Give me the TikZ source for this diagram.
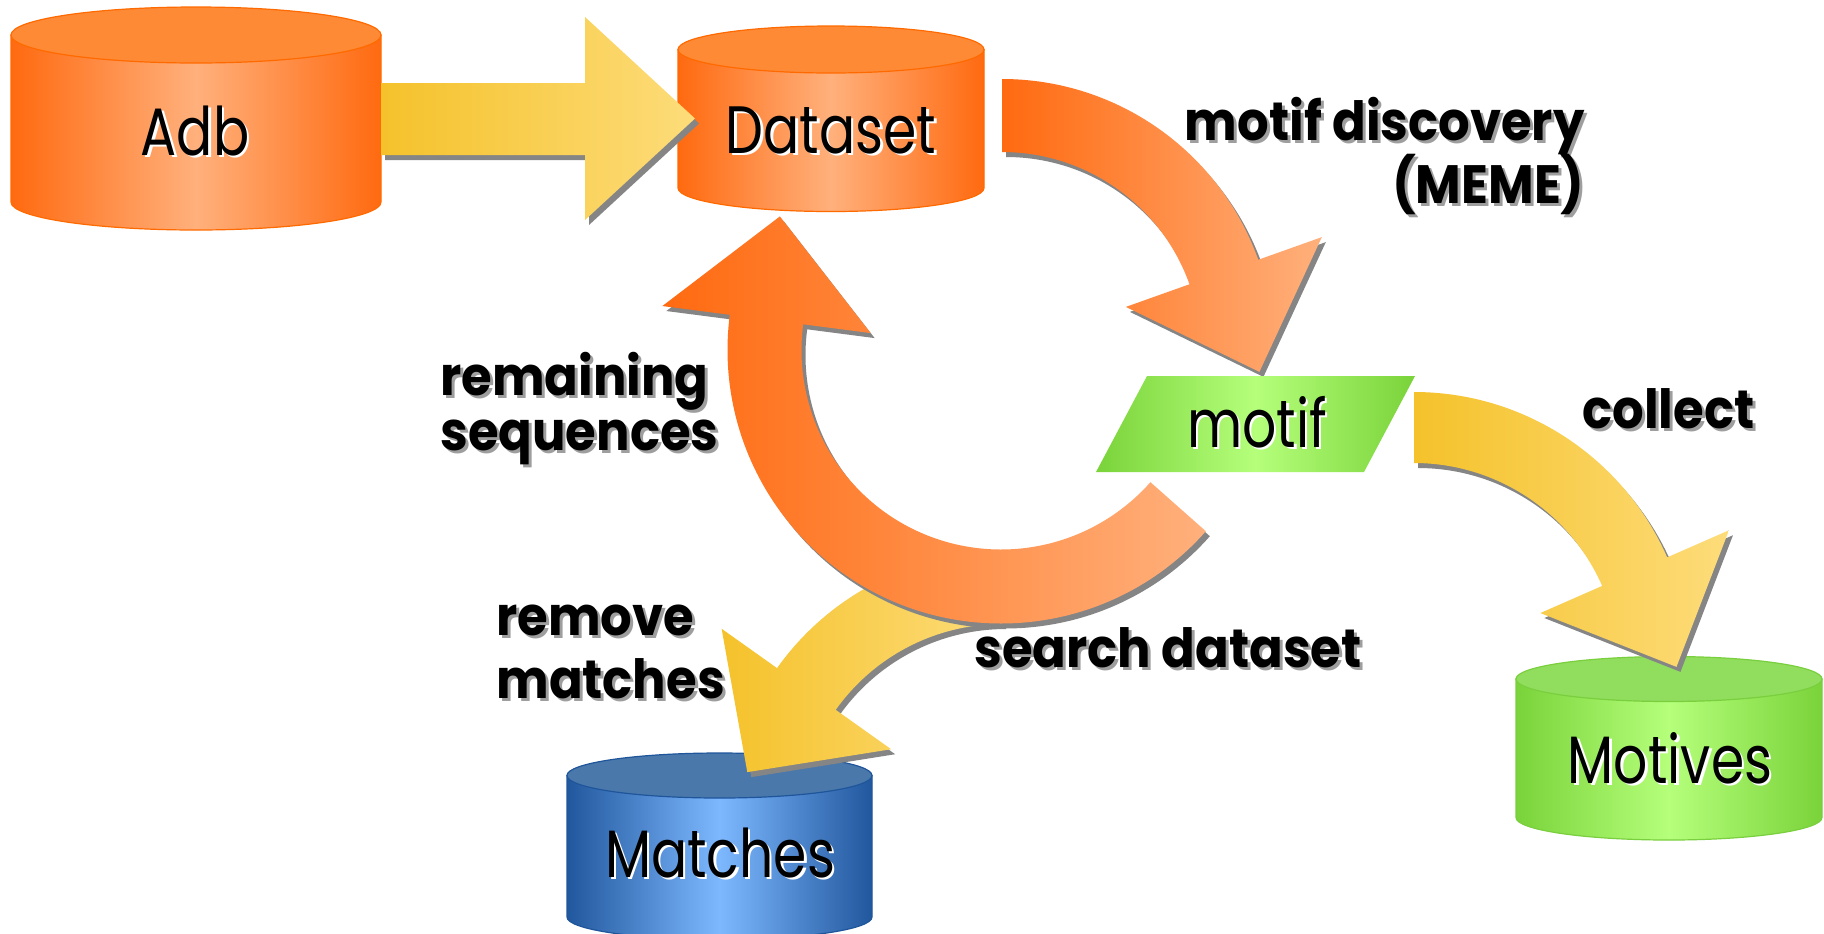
\documentclass[tikz,border=0pt]{standalone}
\usepackage{fontspec}
\usetikzlibrary{calc}
\newfontfamily\tagfont{Poppins}[FakeStretch=0.8]
\IfFontExistsTF{Poppins Bold}
  {\newfontfamily\notefont{Poppins Bold}[FakeStretch=0.92]}
  {\newfontfamily\notefont{Poppins}[FakeStretch=0.92,FakeBold=2]}

\definecolor{orDeep}{HTML}{FF6A10}
\definecolor{orPale}{HTML}{FFB07C}
\definecolor{orTop}{HTML}{FF8A35}
\definecolor{orLine}{HTML}{FF6A00}
\definecolor{ylDeep}{HTML}{F5C22B}
\definecolor{ylPale}{HTML}{FDDC7A}
\definecolor{grDeep}{HTML}{7AD33A}
\definecolor{grPale}{HTML}{B5FF7B}
\definecolor{grTop}{HTML}{91DD5D}
\definecolor{grLine}{HTML}{7ACF3E}
\definecolor{blDeep}{HTML}{21579D}
\definecolor{blPale}{HTML}{7DB8FF}
\definecolor{blTop}{HTML}{4A78AA}
\definecolor{blLine}{HTML}{1F559B}
\definecolor{dropgray}{HTML}{858585}

% database drum: #1 centre x, #2 x radius, #3 lid y, #4 base y, #5 y radius,
% #6 edge colour, #7 centre colour, #8 lid colour, #9 rim colour
\newcommand\drum[9]{%
  \path[draw=#9, line width=0.6pt, left color=#6, right color=#6, middle color=#7]
    (#1-#2,#3) -- (#1-#2,#4) arc[start angle=180, end angle=0, x radius=#2, y radius=#5]
    -- (#1+#2,#3) -- cycle;
  \path[draw=#9, line width=0.6pt, fill=#8] (#1,#3) ellipse[x radius=#2, y radius=#5];
}

% bent block arrow along a circle: #1,#2 centre; #3 inner radius; #4 outer radius;
% #5 tail angle; #6 head angle; #7 head length; #8 head half-width; #9 path options
\newcommand\bentarrow[9]{%
  \pgfmathsetmacro\bRmid{(#3+#4)/2}
  \pgfmathsetmacro\bTurn{#6>#5 ? 90 : -90}
  \pgfmathsetmacro\bOx{#1+#4*cos(#5)}\pgfmathsetmacro\bOy{#2+#4*sin(#5)}
  \pgfmathsetmacro\bAx{#1+(\bRmid+#8)*cos(#6)}\pgfmathsetmacro\bAy{#2+(\bRmid+#8)*sin(#6)}
  \pgfmathsetmacro\bTx{#1+\bRmid*cos(#6)+#7*cos(#6+\bTurn)}
  \pgfmathsetmacro\bTy{#2+\bRmid*sin(#6)+#7*sin(#6+\bTurn)}
  \pgfmathsetmacro\bBx{#1+(\bRmid-#8)*cos(#6)}\pgfmathsetmacro\bBy{#2+(\bRmid-#8)*sin(#6)}
  \pgfmathsetmacro\bIx{#1+#3*cos(#6)}\pgfmathsetmacro\bIy{#2+#3*sin(#6)}
  \path[#9] (\bOx,\bOy) arc[start angle=#5, end angle=#6, radius=#4]
    -- (\bAx,\bAy) -- (\bTx,\bTy) -- (\bBx,\bBy) -- (\bIx,\bIy)
    arc[start angle=#6, end angle=#5, radius=#3] -- cycle;
}

% straight block arrow from Adb to Dataset
\newcommand\feedarrow[1]{%
  \path[#1] (381,83) -- (585,83) -- (585,17) -- (695,118.5) -- (585,220)
    -- (585,155) -- (381,155) -- cycle;
}

% labels with an offset copy behind them
\newcommand\tagtext[3]{%
  \node[tagtxt, text=white] at ($#2+(2.5,2.5)$) {#3};
  \node[tagtxt] (#1) at #2 {#3};
}
\newcommand\notetext[4]{%
  \node[notetxt, anchor=#3, text=black!38] at ($#2+(3,3)$) {#4};
  \node[notetxt, anchor=#3] (#1) at #2 {#4};
}

\begin{document}
\begin{tikzpicture}[x=0.5pt, y=-0.5pt,
  tagtxt/.style={font=\tagfont\fontsize{33.5}{40}\selectfont, inner sep=0pt, anchor=base, text=black},
  notetxt/.style={font=\notefont\fontsize{27}{32}\selectfont, inner sep=0pt, text=black},
  drop/.style={fill=dropgray, shift={(4,5)}},
  orangeflow/.style={left color=orDeep, right color=orPale},
  yellowflow/.style={left color=ylDeep, right color=ylPale}]

\useasboundingbox (0,0) rectangle (1824,933);
\clip (0,0) rectangle (1824,933);
\fill[white] (0,0) rectangle (1824,933);

% databases
\drum{196}{185}{35}{202}{28}{orDeep}{orPale}{orTop}{orLine}
\drum{831}{153}{49.5}{188}{23.5}{orDeep}{orPale}{orTop}{orLine}
\drum{719.5}{152.5}{775.5}{917}{22.5}{blDeep}{blPale}{blTop}{blLine}
\drum{1669}{153}{679}{817.5}{22.5}{grDeep}{grPale}{grTop}{grLine}

% Adb -> Dataset
\feedarrow{drop}
\feedarrow{yellowflow}

% search dataset / remove matches -> Matches
\bentarrow{1002}{828}{204}{276}{270}{215.4}{102}{104}{drop}
\bentarrow{1002}{828}{204}{276}{270}{215.4}{102}{104}{yellowflow}

% remaining sequences: loop back to Dataset
\bentarrow{1001}{350}{199.5}{273.5}{41.5}{187.4}{104}{105}{drop}
\bentarrow{1001}{350}{199.5}{273.5}{41.5}{187.4}{104}{105}{orangeflow}

% motif discovery: Dataset -> motif
\bentarrow{1002}{351}{199}{272}{-90}{-19.6}{106}{104}{drop}
\bentarrow{1002}{351}{199}{272}{-90}{-19.6}{106}{104}{orangeflow}

% motif
\path[left color=grDeep, right color=grDeep, middle color=grPale]
  (1147,376) -- (1415,376) -- (1364,472) -- (1096,472) -- cycle;

% collect: motif -> Motives
\bentarrow{1414}{668.5}{205.5}{276.5}{-90}{-23.7}{104}{103}{drop}
\bentarrow{1414}{668.5}{205.5}{276.5}{-90}{-23.7}{104}{103}{yellowflow}

% node texts
\tagtext{adb}{(195,155)}{Adb}
\tagtext{dataset}{(831,153)}{Dataset}
\tagtext{motif}{(1257,447)}{motif}
\tagtext{matches}{(720,877)}{Matches}
\tagtext{motives}{(1670,783)}{Motives}

% step labels
\notetext{discA}{(1585,140)}{base east}{motif discovery}
\notetext{discB}{(1585,203)}{base east}{(MEME)}
\notetext{collect}{(1582,428)}{base west}{collect}
\notetext{remA}{(440,395)}{base west}{remaining}
\notetext{remB}{(440,450)}{base west}{sequences}
\notetext{rmvA}{(496,635)}{base west}{remove}
\notetext{rmvB}{(496,698)}{base west}{matches}
\notetext{search}{(974,667)}{base west}{search dataset}
\end{tikzpicture}
\end{document}
